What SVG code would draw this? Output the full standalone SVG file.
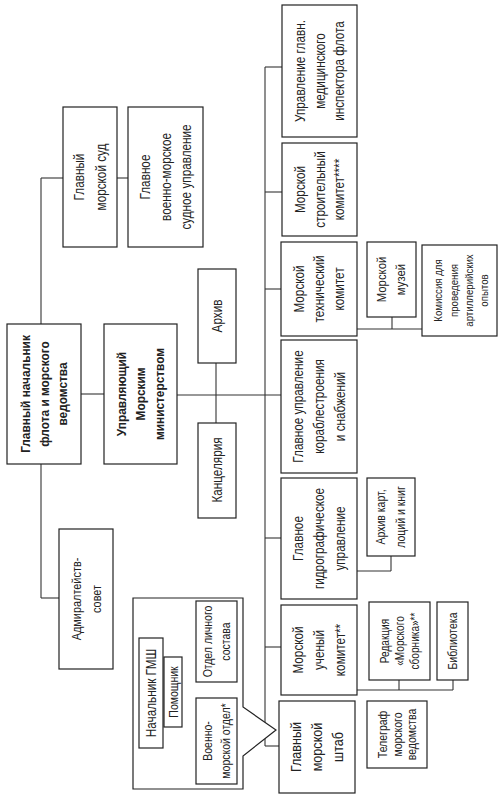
<svg xmlns="http://www.w3.org/2000/svg" width="504" height="800" viewBox="0 0 504 800">
<style>
rect,.frame{fill:#fff;stroke:#222;stroke-width:1.2}
.c line,.c path{stroke:#333;stroke-width:1.1;fill:none}
text{font-family:"Liberation Sans Narrow","Liberation Sans",Arial,sans-serif;fill:#222;text-anchor:middle;font-size:14px}
.b{font-weight:bold;font-size:13.5px}
.s{font-size:12.5px}
.xs{font-size:11.5px}
</style>
<rect x="0" y="0" width="504" height="800" style="fill:#fff;stroke:none"/>
<g class="c" id="connectors">
<line x1="41" y1="178" x2="41" y2="324"/>
<line x1="41" y1="464" x2="41" y2="598"/>
<line x1="41" y1="178" x2="63" y2="178"/>
<line x1="117" y1="178" x2="128" y2="178"/>
<line x1="41" y1="598" x2="59" y2="598"/>
<line x1="81" y1="394" x2="104" y2="394"/>
<line x1="177" y1="395" x2="281" y2="395"/>
<line x1="216" y1="363" x2="216" y2="423"/>
<line x1="265" y1="67" x2="265" y2="746"/>
<line x1="265" y1="67" x2="282" y2="67"/>
<line x1="265" y1="192" x2="282" y2="192"/>
<line x1="265" y1="289" x2="281" y2="289"/>
<line x1="265" y1="538" x2="281" y2="538"/>
<line x1="265" y1="647" x2="281" y2="647"/>
<line x1="265" y1="746" x2="279" y2="746"/>
<line x1="357" y1="329" x2="422" y2="329"/>
<line x1="392" y1="317" x2="392" y2="329"/>
<line x1="357" y1="571" x2="391" y2="571"/>
<line x1="391" y1="556" x2="391" y2="571"/>
<line x1="357" y1="690" x2="453" y2="690"/>
<line x1="399" y1="680" x2="399" y2="690"/>
<line x1="453" y1="680" x2="453" y2="690"/>
<line x1="182" y1="689" x2="214" y2="689"/>
<line x1="182" y1="693" x2="214" y2="693"/>
<line x1="214" y1="682" x2="214" y2="698"/>
</g>
<g id="main"><rect x="7" y="324" width="74" height="140"/>
<text class="b" transform="translate(44,394) rotate(-90) scale(0.88,1)"><tspan x="0" y="-14.5">Главный начальник</tspan><tspan x="0" y="4.5">флота и морского</tspan><tspan x="0" y="23.5">ведомства</tspan></text></g>
<g id="upravl"><rect x="104" y="324" width="73" height="140"/>
<text class="b" transform="translate(140.5,394) rotate(-90) scale(0.88,1)"><tspan x="0" y="-14.5">Управляющий</tspan><tspan x="0" y="4.5">Морским</tspan><tspan x="0" y="23.5">министерством</tspan></text></g>
<g id="sud"><rect x="63" y="107" width="54" height="140"/>
<text transform="translate(90,177) rotate(-90) scale(0.84,1)"><tspan x="0" y="-6">Главный</tspan><tspan x="0" y="16">морской суд</tspan></text></g>
<g id="vms"><rect x="128" y="107" width="75" height="140"/>
<text transform="translate(165.5,177) rotate(-90) scale(0.84,1)"><tspan x="0" y="-16">Главное</tspan><tspan x="0" y="5">военно-морское</tspan><tspan x="0" y="26">судное управление</tspan></text></g>
<g id="admiralty"><rect x="59" y="529" width="54" height="140"/>
<text style="font-size:13px" transform="translate(86,599) rotate(-90) scale(0.84,1)"><tspan x="0" y="-5">Адмиралтейств-</tspan><tspan x="0" y="15">совет</tspan></text></g>
<g id="arkhiv"><rect x="198" y="269" width="38" height="94"/>
<text transform="translate(217,316) rotate(-90) scale(0.84,1)"><tspan x="0" y="5">Архив</tspan></text></g>
<g id="kanc"><rect x="198" y="423" width="38" height="95"/>
<text transform="translate(217,470) rotate(-90) scale(0.84,1)"><tspan x="0" y="5">Канцелярия</tspan></text></g>
<g id="med"><rect x="282" y="5" width="75" height="132"/>
<text transform="translate(319.5,71) rotate(-90) scale(0.84,1)"><tspan x="0" y="-15">Управление главн.</tspan><tspan x="0" y="5">медицинского</tspan><tspan x="0" y="25">инспектора флота</tspan></text></g>
<g id="stroi"><rect x="282" y="143" width="75" height="93"/>
<text transform="translate(319.5,189.5) rotate(-90) scale(0.84,1)"><tspan x="0" y="-15">Морской</tspan><tspan x="0" y="5">строительный</tspan><tspan x="0" y="25">комитет****</tspan></text></g>
<g id="mtk"><rect x="281" y="242" width="76" height="94"/>
<text transform="translate(319,289) rotate(-90) scale(0.84,1)"><tspan x="0" y="-15">Морской</tspan><tspan x="0" y="5">технический</tspan><tspan x="0" y="25">комитет</tspan></text></g>
<g id="korabl"><rect x="281" y="340" width="76" height="133"/>
<text transform="translate(319,406.5) rotate(-90) scale(0.84,1)"><tspan x="0" y="-16">Главное управление</tspan><tspan x="0" y="5">кораблестроения</tspan><tspan x="0" y="26">и снабжений</tspan></text></g>
<g id="gidro"><rect x="281" y="478" width="76" height="121"/>
<text transform="translate(319,538.5) rotate(-90) scale(0.84,1)"><tspan x="0" y="-16">Главное</tspan><tspan x="0" y="5">гидрографическое</tspan><tspan x="0" y="26">управление</tspan></text></g>
<g id="muk"><rect x="281" y="605" width="76" height="90"/>
<text transform="translate(319,650) rotate(-90) scale(0.84,1)"><tspan x="0" y="-16">Морской</tspan><tspan x="0" y="5">ученый</tspan><tspan x="0" y="26">комитет**</tspan></text></g>
<g id="gmsh"><rect x="279" y="701" width="76" height="92"/>
<text style="font-size:15px" transform="translate(317,747) rotate(-90) scale(0.84,1)"><tspan x="0" y="-16">Главный</tspan><tspan x="0" y="5">морской</tspan><tspan x="0" y="26">штаб</tspan></text></g>
<g id="muzei"><rect x="367" y="242" width="49" height="75"/>
<text style="font-size:13.5px" transform="translate(391.5,279.5) rotate(-90) scale(0.84,1)"><tspan x="0" y="-6">Морской</tspan><tspan x="0" y="14">музей</tspan></text></g>
<g id="komissia"><rect x="422" y="245" width="75" height="91"/>
<text class="xs" transform="translate(461.5,290.5) rotate(-90) scale(0.84,1)"><tspan x="0" y="-19.5">Комиссия для</tspan><tspan x="0" y="-3.5">проведения</tspan><tspan x="0" y="11.5">артиллерийских</tspan><tspan x="0" y="26.5">опытов</tspan></text></g>
<g id="arkhiv-kart"><rect x="367" y="478" width="48" height="78"/>
<text class="s" transform="translate(391,517) rotate(-90) scale(0.84,1)"><tspan x="0" y="-6">Архив карт,</tspan><tspan x="0" y="14">лоций и книг</tspan></text></g>
<g id="redakcia"><rect x="369" y="602" width="61" height="78"/>
<text style="font-size:12px" transform="translate(399.5,641) rotate(-90) scale(0.84,1)"><tspan x="0" y="-10.5">Редакция</tspan><tspan x="0" y="4.5">«Морского</tspan><tspan x="0" y="19.5">сборника»**</tspan></text></g>
<g id="biblioteka"><rect x="437" y="602" width="31" height="78"/>
<text class="s" transform="translate(452.5,641) rotate(-90) scale(0.84,1)"><tspan x="0" y="4.5">Библиотека</tspan></text></g>
<g id="telegraf"><rect x="367" y="701" width="60" height="67"/>
<text class="s" transform="translate(397,734.5) rotate(-90) scale(0.84,1)"><tspan x="0" y="-10">Телеграф</tspan><tspan x="0" y="4.5">морского</tspan><tspan x="0" y="19">ведомства</tspan></text></g>
<g id="gmsh-structure"><path class="frame" d="M133,598 H243 V707 L276,730 L243,756 V789 H133 Z"/></g>
<g id="nachalnik"><rect x="139" y="638" width="24" height="110"/>
<text transform="translate(151,693) rotate(-90) scale(0.84,1)"><tspan x="0" y="5">Начальник ГМШ</tspan></text></g>
<g id="pomoshnik"><rect x="164" y="657" width="18" height="70"/>
<text class="s" transform="translate(173,692) rotate(-90) scale(0.84,1)"><tspan x="0" y="4.5">Помощник</tspan></text></g>
<g id="otdel-ls"><rect x="196" y="601" width="41" height="81"/>
<text class="s" transform="translate(216.5,641.5) rotate(-90) scale(0.84,1)"><tspan x="0" y="-5">Отдел личного</tspan><tspan x="0" y="14">состава</tspan></text></g>
<g id="vmo"><rect x="196" y="698" width="41" height="86"/>
<text class="s" transform="translate(216.5,741) rotate(-90) scale(0.84,1)"><tspan x="0" y="-5">Военно-</tspan><tspan x="0" y="14">морской отдел*</tspan></text></g>
</svg>
